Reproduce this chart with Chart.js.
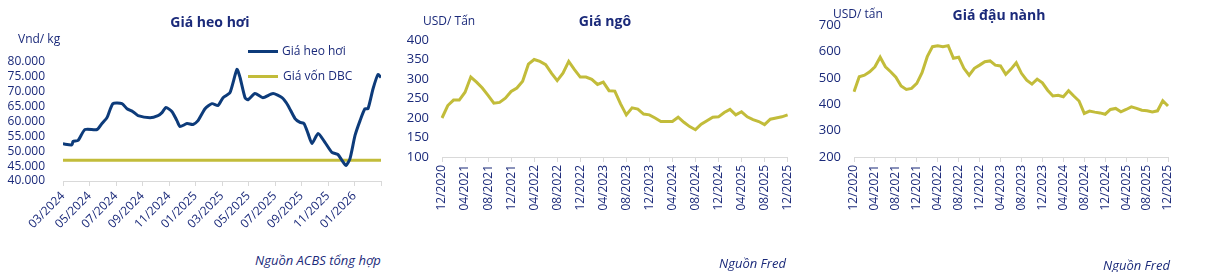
<!DOCTYPE html>
<html>
<head>
<meta charset="utf-8">
<script src="https://cdn.jsdelivr.net/npm/chart.js@4.4.1/dist/chart.umd.min.js"></script>
<style>
  body { margin: 0; background: #fff; width: 1208px; height: 272px; position: relative; overflow: hidden; font-family: "Open Sans", sans-serif; color: #1b2a7a; }
  .box { position: absolute; }
  .txt { position: absolute; white-space: nowrap; color: #1b2a7a; }
  .title { font-weight: bold; font-size: 14px; transform: translateX(-50%); }
  .unit { font-size: 12px; }
  .src { font-style: italic; font-size: 13px; }
  .lg { position: absolute; height: 3px; width: 30px; }
</style>
</head>
<body>
<div class="box" style="left:0;top:0"><canvas id="hogChart" width="395" height="245"></canvas></div>
<div class="box" style="left:390px;top:0"><canvas id="cornChart" width="415" height="245"></canvas></div>
<div class="box" style="left:800px;top:0"><canvas id="soyChart" width="408" height="245"></canvas></div>

<div class="txt title" style="left:210px;top:12px">Giá heo hơi</div>
<div class="txt unit" style="left:18px;top:30px">Vnd/ kg</div>
<div class="lg" style="left:248px;top:50px;background:#0d3b7a"></div>
<div class="txt unit" style="left:282px;top:42px">Giá heo hơi</div>
<div class="lg" style="left:248px;top:75px;background:#c2bc3a"></div>
<div class="txt unit" style="left:283px;top:67px">Giá vốn DBC</div>
<div class="txt src" style="left:255px;top:251px">Nguồn ACBS tổng hợp</div>

<div class="txt title" style="left:605px;top:11px">Giá ngô</div>
<div class="txt unit" style="left:423px;top:12px">USD/ Tấn</div>
<div class="txt src" style="left:719px;top:254px">Nguồn Fred</div>

<div class="txt title" style="left:999px;top:5px">Giá đậu nành</div>
<div class="txt unit" style="left:833px;top:5px">USD/ tấn</div>
<div class="txt src" style="left:1103px;top:256px">Nguồn Fred</div>

<script>
// heo hơi: months since 03/2024, price VND/kg
var hogMonth = [0, 0.68, 0.75, 1.13, 1.66, 2.57, 2.94, 3.32, 3.77, 4.45, 4.83, 5.28, 5.66, 6.57, 7.17, 7.47, 7.77, 8.23, 8.6, 8.83,
  9.36, 9.81, 10.19, 10.72, 11.25, 11.7, 12.08, 12.6, 13.13, 13.36, 13.74, 13.96, 14.49, 15.09, 15.85, 16.53, 16.98, 17.51, 17.89, 18.19,
  18.49, 18.79, 19.25, 19.77, 20.3, 20.75, 21.06, 21.36, 21.66, 22.04, 22.42, 22.79, 23.02, 23.4, 23.77, 24];
var hogPrice = [52500, 52150, 53300, 53600, 57300, 57300, 59300, 61300, 66000, 66000, 64300, 63300, 62000, 61300, 62000, 63000, 64700, 63300, 60300, 58300,
  59300, 59000, 60300, 64300, 66000, 65400, 68000, 69700, 77500, 74800, 68000, 67300, 69400, 68000, 69400, 68000, 65400, 61000, 59700, 59300,
  56000, 52600, 56000, 53000, 49600, 48900, 46900, 45200, 47500, 55300, 60300, 64300, 64300, 71000, 75800, 74800];
var dbcCost = 47000;
var hogTicks = ['03/2024', '05/2024', '07/2024', '09/2024', '11/2024', '01/2025', '03/2025', '05/2025', '07/2025', '09/2025', '11/2025', '01/2026', ''];

// ngô & đậu nành: monthly 12/2020 - 12/2025, USD/tấn
var cornPrice = [200, 232, 246, 246, 266, 305, 292, 277, 258, 238, 240, 251, 268, 277, 294, 338, 350, 345, 337, 315,
  296, 315, 345, 324, 305, 305, 299, 286, 292, 270, 269, 236, 208, 226, 223, 210, 208, 200, 191, 191,
  191, 202, 189, 178, 170, 184, 193, 202, 203, 214, 222, 208, 216, 203, 196, 191, 183, 197, 200, 203, 208];
var soyPrice = [447, 504, 510, 523, 542, 578, 542, 523, 502, 469, 456, 460, 479, 519, 580, 618, 621, 618, 622, 574,
  578, 536, 510, 536, 548, 561, 564, 548, 545, 513, 533, 557, 517, 491, 476, 495, 481, 453, 431, 434,
  428, 451, 431, 412, 365, 374, 370, 367, 362, 380, 384, 371, 380, 390, 384, 377, 375, 371, 375, 413, 393];
var monthTicks = ['12/2020', '04/2021', '08/2021', '12/2021', '04/2022', '08/2022', '12/2022', '04/2023', '08/2023', '12/2023',
  '04/2024', '08/2024', '12/2024', '04/2025', '08/2025', '12/2025'];

var NAVY = '#1b2a7a';
var LINE_BLUE = '#0d3b7a';
var OLIVE = '#c2bc3a';
var AXIS = '#d9d9d9';

Chart.defaults.font.family = '"Open Sans", sans-serif';
Chart.defaults.color = NAVY;
Chart.defaults.animation = false;

// build monthly labels for category axes, showing every 4th month
var monthLabels = [];
for (var i = 0; i < cornPrice.length; i++) {
  monthLabels.push(i % 4 === 0 ? monthTicks[i / 4] : '');
}

function thousands(v) {
  return String(v).replace(/\B(?=(\d{3})+(?!\d))/g, '.');
}

var hogData = hogMonth.map(function (m, i) { return { x: m, y: hogPrice[i] }; });

new Chart(document.getElementById('hogChart'), {
  type: 'line',
  data: {
    datasets: [{
      label: 'Giá heo hơi',
      data: hogData,
      borderColor: LINE_BLUE,
      borderWidth: 3,
      pointRadius: 0,
      tension: 0.2
    }, {
      label: 'Giá vốn DBC',
      data: [{ x: 0, y: dbcCost }, { x: 24, y: dbcCost }],
      borderColor: OLIVE,
      borderWidth: 3,
      pointRadius: 0
    }]
  },
  options: {
    responsive: false,
    maintainAspectRatio: false,
    layout: { padding: { top: 62, right: 14, left: 0, bottom: 0 } },
    plugins: { legend: { display: false }, tooltip: { enabled: false } },
    scales: {
      x: {
        type: 'linear',
        min: 0, max: 24,
        afterFit: function (s) { s.height = 64; },
        ticks: {
          stepSize: 2, autoSkip: false, maxRotation: 45, minRotation: 45,
          font: { size: 12 }, color: NAVY,
          callback: function (v) { return hogTicks[v / 2]; }
        },
        grid: { drawOnChartArea: false, color: AXIS, tickLength: 5 },
        border: { color: AXIS }
      },
      y: {
        min: 40000, max: 80000,
        afterFit: function (s) { s.width = 63; },
        ticks: { stepSize: 5000, autoSkip: false, font: { size: 12 }, color: NAVY, padding: 10, callback: thousands },
        grid: { display: false },
        border: { display: false }
      }
    }
  }
});

function priceChart(id, values, yMin, yMax, yStep, pad, yWidth) {
  return new Chart(document.getElementById(id), {
    type: 'line',
    data: {
      labels: monthLabels,
      datasets: [{
        data: values,
        borderColor: OLIVE,
        borderWidth: 3,
        pointRadius: 0,
        tension: 0
      }]
    },
    options: {
      responsive: false,
      maintainAspectRatio: false,
      layout: { padding: pad },
      plugins: { legend: { display: false }, tooltip: { enabled: false } },
      scales: {
        x: {
          offset: false,
          afterFit: function (s) { s.height = 245 - 157 - pad.bottom; },
          ticks: {
            autoSkip: false, maxRotation: 90, minRotation: 90,
            font: { size: 12 }, color: NAVY,
            callback: function (v, i) { return monthLabels[i]; }
          },
          grid: {
            drawOnChartArea: false, tickLength: 5,
            color: function (c) { return monthLabels[c.index] ? AXIS : 'rgba(0,0,0,0)'; }
          },
          border: { color: AXIS }
        },
        y: {
          min: yMin, max: yMax,
          afterFit: function (s) { s.width = yWidth; },
          ticks: { stepSize: yStep, autoSkip: false, font: { size: 13 }, color: NAVY, padding: 5 },
          grid: { display: false },
          border: { display: false }
        }
      }
    }
  });
}

priceChart('cornChart', cornPrice, 100, 400, 50, { top: 40, right: 12, left: 0, bottom: 0 }, 52);
priceChart('soyChart', soyPrice, 200, 700, 100, { top: 25, right: 40, left: 0, bottom: 0 }, 54);
</script>
</body>
</html>
